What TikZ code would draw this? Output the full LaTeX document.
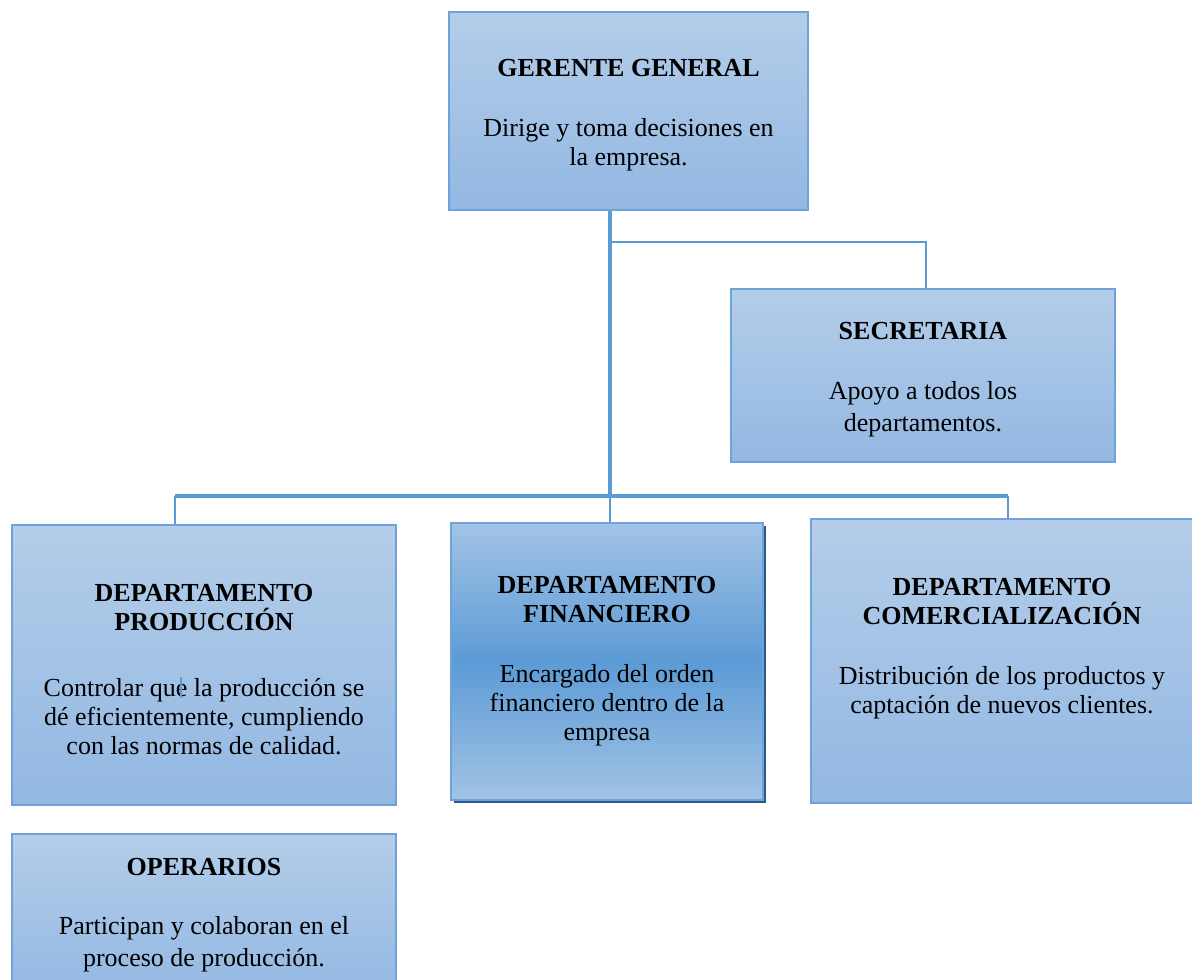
\documentclass[tikz,border=0pt]{standalone}
\usepackage{fontspec}
\setmainfont{Liberation Serif}
\usetikzlibrary{positioning,shadows}

\definecolor{linea}{HTML}{5B9BD5}
\definecolor{borde}{HTML}{6FA2DA}
\definecolor{claro}{HTML}{B4CDE9}
\definecolor{oscuro}{HTML}{93B8E3}
\definecolor{medio}{HTML}{5C9BD6}
\definecolor{sombra}{HTML}{2A5A8C}

\tikzset{
  caja/.style={draw=borde, line width=1.5pt, top color=claro, bottom color=oscuro,
    align=center, inner sep=0pt, font=\fontsize{26}{29}\selectfont},
  cajafin/.style={caja, top color=claro!80!medio, bottom color=claro!80!medio, middle color=medio,
    drop shadow={shadow xshift=3pt, shadow yshift=-3pt, fill=sombra, opacity=1}},
  enlace/.style={draw=linea, line width=2.5pt},
  fino/.style={draw=linea, line width=1.3pt}
}

\begin{document}
\begin{tikzpicture}[x=1pt, y=-1pt]
        \useasboundingbox (0,0) rectangle (1192,980);

        % Top of the chart
        \node[caja, minimum width=359, minimum height=198] (gerente) at (628.5,111)
          {\rule{0pt}{26pt}\textbf{GERENTE GENERAL}\\[31pt]Dirige y toma decisiones en\\la empresa.};

        % Support
        \node[caja, minimum width=384, minimum height=173] (secretaria) at (923,375.5)
          {\rule{0pt}{26pt}\textbf{SECRETARIA}\\[31pt]Apoyo a todos los\\[3pt]departamentos.};

        % Departments
        \node[caja, minimum width=384, minimum height=280] (produccion) at (204,665)
          {\rule{0pt}{26pt}\textbf{DEPARTAMENTO}\\\textbf{PRODUCCIÓN}\\[37pt]Controlar que la producción se\\dé eficientemente, cumpliendo\\con las normas de calidad.};
        \node[cajafin, minimum width=312, minimum height=277] (financiero) at (607,661.5)
          {\textbf{DEPARTAMENTO}\\\textbf{FINANCIERO}\\[31pt]Encargado del orden\\financiero dentro de la\\empresa};
        \node[caja, minimum width=382, minimum height=284] (comercial) at (1002,661)
          {\textbf{DEPARTAMENTO}\\\textbf{COMERCIALIZACIÓN}\\[31pt]Distribución de los productos y\\captación de nuevos clientes.\\[2pt]};

        % Workers
        \node[caja, minimum width=384, minimum height=162] (operarios) at (204,915)
          {\textbf{OPERARIOS}\\[30pt]Participan y colaboran en el\\[3pt]proceso de producción.};

        % Trunk and bus
        \coordinate (tronco) at (610,496);
        \coordinate (rama) at (610,242);
        \draw[enlace, line width=3.5pt] (tronco |- gerente.south) -- (tronco);
        \draw[fino] (rama) -| (secretaria.north -| 926,0);
        \draw[enlace, line width=3.5pt] (175,496) -- (1008,496);
        \foreach \x/\n in {175/produccion, 610/financiero, 1008/comercial} {
          \draw[enlace] (\x,496) -- (\n.north -| \x,0);
        }

        % Stray mark in the text
        \draw[linea, line width=2pt] (181,677) -- (181,698);
      \end{tikzpicture}
\end{document}
